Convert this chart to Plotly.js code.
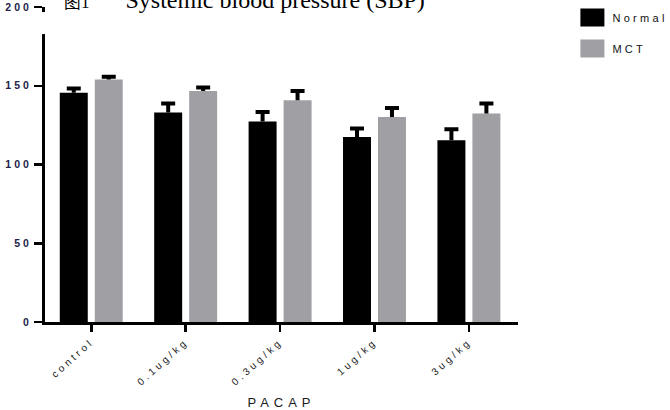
<!DOCTYPE html>
<html>
<head>
<meta charset="utf-8">
<script src="https://cdn.plot.ly/plotly-3.0.1.min.js"></script>
<style>
  html, body { margin: 0; padding: 0; background: #fff; }
  #chart { width: 670px; height: 410px; }
  .xtick text { letter-spacing: 3.3px; }
  .ytick text { letter-spacing: 3px; }
  .g-xtitle text { letter-spacing: 5px; }
  .legendtext { letter-spacing: 3.3px; }
</style>
</head>
<body>
<div id="chart"></div>
<script>
// ---- data ----
const categories = ["control", "0.1ug/kg", "0.3ug/kg", "1ug/kg", "3ug/kg"];
const normalValues = [145.5, 133.0, 127.3, 117.5, 115.4];
const normalErr = [2.8, 5.7, 6.1, 5.3, 7.0];
const mctValues = [154.0, 146.7, 140.8, 130.2, 132.4];
const mctErr = [1.7, 2.2, 5.9, 5.7, 6.4];
const seriesNames = ["Normal", "MCT"];
const yTicks = [0, 50, 100, 150, 200];
const titleFigure = "图1";
const titleText = "Systemic blood pressure (SBP)";
const xTitle = "PACAP";

const errStyle = { type: "data", symmetric: false, visible: true, color: "#000", thickness: 4, width: 7 };

const traces = [
  {
    type: "bar", name: seriesNames[0], x: categories, y: normalValues,
    marker: { color: "#000000" }, legendgroup: "a",
    error_y: Object.assign({ array: normalErr, arrayminus: normalErr.map(() => 0) }, errStyle)
  },
  {
    type: "bar", name: seriesNames[1], x: categories, y: mctValues,
    marker: { color: "#a0a0a4" }, legendgroup: "b",
    error_y: Object.assign({ array: mctErr, arrayminus: mctErr.map(() => 0) }, errStyle)
  }
];

const sans = "Liberation Sans, Arial, sans-serif";
const layout = {
  width: 670, height: 410,
  margin: { l: 45, r: 152, t: 7, b: 88, autoexpand: false },
  paper_bgcolor: "#fff", plot_bgcolor: "#fff",
  barmode: "group", bargap: 0.259, bargroupgap: 0.2,
  showlegend: true,
  legend: {
    x: 1.115, xanchor: "left", y: 1.013, yanchor: "top",
    font: { family: sans, size: 11, color: "#111" },
    tracegroupgap: 12, bgcolor: "rgba(0,0,0,0)"
  },
  xaxis: {
    type: "category", range: [-0.49, 4.52],
    showline: true, linecolor: "#000", linewidth: 3,
    ticks: "outside", ticklen: 7, tickwidth: 2.5, tickcolor: "#000",
    tickangle: -42, showgrid: false, zeroline: false, automargin: false,
    tickfont: { family: sans, size: 10, color: "#1a1a1a" },
    title: { text: xTitle, standoff: 12, font: { family: sans, size: 13, color: "#1a1a1a" } }
  },
  yaxis: {
    range: [0, 200], tickvals: yTicks, ticktext: yTicks.map(String),
    showline: true, linecolor: "#000", linewidth: 3,
    ticks: "outside", ticklen: 8, tickwidth: 2.5, tickcolor: "#000",
    showgrid: false, zeroline: false, automargin: false,
    tickfont: { family: sans, size: 10.5, color: "#22224a", weight: "bold" }
  },
  shapes: [
    { type: "rect", xref: "paper", yref: "paper", x0: -0.012, x1: 0.012, y0: 0.914, y1: 0.984,
      fillcolor: "#fff", line: { width: 0 }, layer: "above" }
  ],
  annotations: [
    { text: '<span style="font-size:17px">' + titleFigure + '</span>' + '\u00a0'.repeat(6) + titleText,
      xref: "paper", yref: "paper", x: 0.035, xanchor: "left",
      y: 1.022, yanchor: "middle", showarrow: false,
      font: { family: "Liberation Serif, Times New Roman, serif", size: 24, color: "#000" } }
  ]
};

Plotly.newPlot("chart", traces, layout, { staticPlot: true }).then(function (gd) {
  // bigger legend swatches like the reference
  gd.querySelectorAll(".legendpoints path").forEach(function (p) {
    p.setAttribute("d", "M12,9H-12V-9H12Z");
  });
  // upward-only error bars: drop the lower cap
  gd.querySelectorAll(".errorbar path").forEach(function (p) {
    var d = p.getAttribute("d") || "";
    p.setAttribute("d", d.replace(/m-[\d.]+,0h[\d.]+$/, ""));
  });
});
</script>
</body>
</html>
